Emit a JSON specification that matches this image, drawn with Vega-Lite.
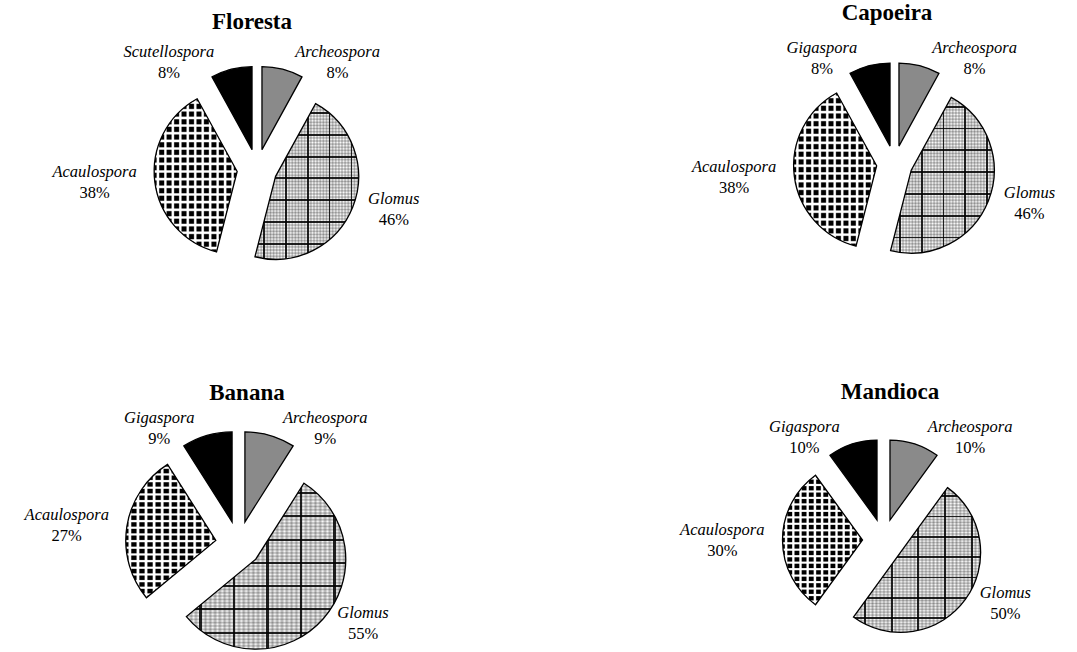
{
  "$schema": "https://vega.github.io/schema/vega-lite/v6.json",
  "background": "white",
  "padding": {"top": 2, "left": 0, "right": 0, "bottom": 0},
  "config": {
    "view": {"stroke": null},
    "font": "Liberation Serif",
    "title": {"font": "Liberation Serif", "fontSize": 23, "fontWeight": "bold", "color": "black", "anchor": "middle", "frame": "group"},
    "text": {"color": "black"}
  },
  "params": [
    {"name": "texGlomusV", "value": {"gradient": "linear", "x1": 0, "y1": 0, "x2": 1, "y2": 0, "stops": [
      {"offset": 0, "color": "#0004"}, {"offset": 0.015, "color": "#0000"}, {"offset": 0.03, "color": "#0004"}, {"offset": 0.045, "color": "#0000"}, {"offset": 0.06, "color": "#0004"}, {"offset": 0.075, "color": "#0000"},
      {"offset": 0.082, "color": "#0002"}, {"offset": 0.082, "color": "#000d"}, {"offset": 0.098, "color": "#000d"}, {"offset": 0.098, "color": "#0002"},
      {"offset": 0.105, "color": "#0000"}, {"offset": 0.12, "color": "#0004"}, {"offset": 0.135, "color": "#0000"}, {"offset": 0.15, "color": "#0004"}, {"offset": 0.165, "color": "#0000"}, {"offset": 0.18, "color": "#0004"}, {"offset": 0.195, "color": "#0000"}, {"offset": 0.21, "color": "#0004"}, {"offset": 0.225, "color": "#0000"}, {"offset": 0.24, "color": "#0004"}, {"offset": 0.255, "color": "#0000"}, {"offset": 0.27, "color": "#0004"}, {"offset": 0.285, "color": "#0000"},
      {"offset": 0.292, "color": "#0002"}, {"offset": 0.292, "color": "#000d"}, {"offset": 0.308, "color": "#000d"}, {"offset": 0.308, "color": "#0002"},
      {"offset": 0.315, "color": "#0000"}, {"offset": 0.33, "color": "#0004"}, {"offset": 0.345, "color": "#0000"}, {"offset": 0.36, "color": "#0004"}, {"offset": 0.375, "color": "#0000"}, {"offset": 0.39, "color": "#0004"}, {"offset": 0.405, "color": "#0000"}, {"offset": 0.42, "color": "#0004"}, {"offset": 0.435, "color": "#0000"}, {"offset": 0.45, "color": "#0004"}, {"offset": 0.465, "color": "#0000"}, {"offset": 0.48, "color": "#0004"}, {"offset": 0.495, "color": "#0000"},
      {"offset": 0.502, "color": "#0002"}, {"offset": 0.502, "color": "#000d"}, {"offset": 0.518, "color": "#000d"}, {"offset": 0.518, "color": "#0002"},
      {"offset": 0.525, "color": "#0000"}, {"offset": 0.54, "color": "#0004"}, {"offset": 0.555, "color": "#0000"}, {"offset": 0.57, "color": "#0004"}, {"offset": 0.585, "color": "#0000"}, {"offset": 0.6, "color": "#0004"}, {"offset": 0.615, "color": "#0000"}, {"offset": 0.63, "color": "#0004"}, {"offset": 0.645, "color": "#0000"}, {"offset": 0.66, "color": "#0004"}, {"offset": 0.675, "color": "#0000"}, {"offset": 0.69, "color": "#0004"}, {"offset": 0.705, "color": "#0000"},
      {"offset": 0.712, "color": "#0002"}, {"offset": 0.712, "color": "#000d"}, {"offset": 0.728, "color": "#000d"}, {"offset": 0.728, "color": "#0002"},
      {"offset": 0.735, "color": "#0000"}, {"offset": 0.75, "color": "#0004"}, {"offset": 0.765, "color": "#0000"}, {"offset": 0.78, "color": "#0004"}, {"offset": 0.795, "color": "#0000"}, {"offset": 0.81, "color": "#0004"}, {"offset": 0.825, "color": "#0000"}, {"offset": 0.84, "color": "#0004"}, {"offset": 0.855, "color": "#0000"}, {"offset": 0.87, "color": "#0004"}, {"offset": 0.885, "color": "#0000"}, {"offset": 0.9, "color": "#0004"}, {"offset": 0.915, "color": "#0000"},
      {"offset": 0.922, "color": "#0002"}, {"offset": 0.922, "color": "#000d"}, {"offset": 0.938, "color": "#000d"}, {"offset": 0.938, "color": "#0002"},
      {"offset": 0.945, "color": "#0000"}, {"offset": 0.96, "color": "#0004"}, {"offset": 0.975, "color": "#0000"}, {"offset": 0.99, "color": "#0004"}, {"offset": 1, "color": "#0002"}
    ]}},
    {"name": "texGlomusH", "value": {"gradient": "linear", "x1": 0, "y1": 0, "x2": 0, "y2": 1, "stops": [
      {"offset": 0, "color": "#0004"}, {"offset": 0.01, "color": "#0000"}, {"offset": 0.02, "color": "#0004"}, {"offset": 0.03, "color": "#0000"}, {"offset": 0.04, "color": "#0004"}, {"offset": 0.05, "color": "#0000"},
      {"offset": 0.054, "color": "#0002"}, {"offset": 0.054, "color": "#000d"}, {"offset": 0.066, "color": "#000d"}, {"offset": 0.066, "color": "#0002"},
      {"offset": 0.07, "color": "#0000"}, {"offset": 0.08, "color": "#0004"}, {"offset": 0.09, "color": "#0000"}, {"offset": 0.1, "color": "#0004"}, {"offset": 0.11, "color": "#0000"}, {"offset": 0.12, "color": "#0004"}, {"offset": 0.13, "color": "#0000"}, {"offset": 0.14, "color": "#0004"}, {"offset": 0.15, "color": "#0000"}, {"offset": 0.16, "color": "#0004"}, {"offset": 0.17, "color": "#0000"}, {"offset": 0.18, "color": "#0004"}, {"offset": 0.19, "color": "#0000"},
      {"offset": 0.194, "color": "#0002"}, {"offset": 0.194, "color": "#000d"}, {"offset": 0.206, "color": "#000d"}, {"offset": 0.206, "color": "#0002"},
      {"offset": 0.21, "color": "#0000"}, {"offset": 0.22, "color": "#0004"}, {"offset": 0.23, "color": "#0000"}, {"offset": 0.24, "color": "#0004"}, {"offset": 0.25, "color": "#0000"}, {"offset": 0.26, "color": "#0004"}, {"offset": 0.27, "color": "#0000"}, {"offset": 0.28, "color": "#0004"}, {"offset": 0.29, "color": "#0000"}, {"offset": 0.3, "color": "#0004"}, {"offset": 0.31, "color": "#0000"}, {"offset": 0.32, "color": "#0004"}, {"offset": 0.33, "color": "#0000"},
      {"offset": 0.334, "color": "#0002"}, {"offset": 0.334, "color": "#000d"}, {"offset": 0.346, "color": "#000d"}, {"offset": 0.346, "color": "#0002"},
      {"offset": 0.35, "color": "#0000"}, {"offset": 0.36, "color": "#0004"}, {"offset": 0.37, "color": "#0000"}, {"offset": 0.38, "color": "#0004"}, {"offset": 0.39, "color": "#0000"}, {"offset": 0.4, "color": "#0004"}, {"offset": 0.41, "color": "#0000"}, {"offset": 0.42, "color": "#0004"}, {"offset": 0.43, "color": "#0000"}, {"offset": 0.44, "color": "#0004"}, {"offset": 0.45, "color": "#0000"}, {"offset": 0.46, "color": "#0004"}, {"offset": 0.47, "color": "#0000"},
      {"offset": 0.474, "color": "#0002"}, {"offset": 0.474, "color": "#000d"}, {"offset": 0.486, "color": "#000d"}, {"offset": 0.486, "color": "#0002"},
      {"offset": 0.49, "color": "#0000"}, {"offset": 0.5, "color": "#0004"}, {"offset": 0.51, "color": "#0000"}, {"offset": 0.52, "color": "#0004"}, {"offset": 0.53, "color": "#0000"}, {"offset": 0.54, "color": "#0004"}, {"offset": 0.55, "color": "#0000"}, {"offset": 0.56, "color": "#0004"}, {"offset": 0.57, "color": "#0000"}, {"offset": 0.58, "color": "#0004"}, {"offset": 0.59, "color": "#0000"}, {"offset": 0.6, "color": "#0004"}, {"offset": 0.61, "color": "#0000"},
      {"offset": 0.614, "color": "#0002"}, {"offset": 0.614, "color": "#000d"}, {"offset": 0.626, "color": "#000d"}, {"offset": 0.626, "color": "#0002"},
      {"offset": 0.63, "color": "#0000"}, {"offset": 0.64, "color": "#0004"}, {"offset": 0.65, "color": "#0000"}, {"offset": 0.66, "color": "#0004"}, {"offset": 0.67, "color": "#0000"}, {"offset": 0.68, "color": "#0004"}, {"offset": 0.69, "color": "#0000"}, {"offset": 0.7, "color": "#0004"}, {"offset": 0.71, "color": "#0000"}, {"offset": 0.72, "color": "#0004"}, {"offset": 0.73, "color": "#0000"}, {"offset": 0.74, "color": "#0004"}, {"offset": 0.75, "color": "#0000"},
      {"offset": 0.754, "color": "#0002"}, {"offset": 0.754, "color": "#000d"}, {"offset": 0.766, "color": "#000d"}, {"offset": 0.766, "color": "#0002"},
      {"offset": 0.77, "color": "#0000"}, {"offset": 0.78, "color": "#0004"}, {"offset": 0.79, "color": "#0000"}, {"offset": 0.8, "color": "#0004"}, {"offset": 0.81, "color": "#0000"}, {"offset": 0.82, "color": "#0004"}, {"offset": 0.83, "color": "#0000"}, {"offset": 0.84, "color": "#0004"}, {"offset": 0.85, "color": "#0000"}, {"offset": 0.86, "color": "#0004"}, {"offset": 0.87, "color": "#0000"}, {"offset": 0.88, "color": "#0004"}, {"offset": 0.89, "color": "#0000"},
      {"offset": 0.894, "color": "#0002"}, {"offset": 0.894, "color": "#000d"}, {"offset": 0.906, "color": "#000d"}, {"offset": 0.906, "color": "#0002"},
      {"offset": 0.91, "color": "#0000"}, {"offset": 0.92, "color": "#0004"}, {"offset": 0.93, "color": "#0000"}, {"offset": 0.94, "color": "#0004"}, {"offset": 0.95, "color": "#0000"}, {"offset": 0.96, "color": "#0004"}, {"offset": 0.97, "color": "#0000"}, {"offset": 0.98, "color": "#0004"}, {"offset": 0.99, "color": "#0000"}, {"offset": 1, "color": "#0004"}
    ]}},
    {"name": "texAcauV", "value": {"gradient": "linear", "x1": 0, "y1": 0, "x2": 1, "y2": 0, "stops": [
      {"offset": 0.0225, "color": "#fff0"}, {"offset": 0.0378, "color": "#ffff"}, {"offset": 0.0522, "color": "#ffff"}, {"offset": 0.0675, "color": "#fff0"},
      {"offset": 0.1125, "color": "#fff0"}, {"offset": 0.1278, "color": "#ffff"}, {"offset": 0.1422, "color": "#ffff"}, {"offset": 0.1575, "color": "#fff0"},
      {"offset": 0.2025, "color": "#fff0"}, {"offset": 0.2178, "color": "#ffff"}, {"offset": 0.2322, "color": "#ffff"}, {"offset": 0.2475, "color": "#fff0"},
      {"offset": 0.2925, "color": "#fff0"}, {"offset": 0.3078, "color": "#ffff"}, {"offset": 0.3222, "color": "#ffff"}, {"offset": 0.3375, "color": "#fff0"},
      {"offset": 0.3825, "color": "#fff0"}, {"offset": 0.3978, "color": "#ffff"}, {"offset": 0.4122, "color": "#ffff"}, {"offset": 0.4275, "color": "#fff0"},
      {"offset": 0.4725, "color": "#fff0"}, {"offset": 0.4878, "color": "#ffff"}, {"offset": 0.5022, "color": "#ffff"}, {"offset": 0.5175, "color": "#fff0"},
      {"offset": 0.5625, "color": "#fff0"}, {"offset": 0.5778, "color": "#ffff"}, {"offset": 0.5922, "color": "#ffff"}, {"offset": 0.6075, "color": "#fff0"},
      {"offset": 0.6525, "color": "#fff0"}, {"offset": 0.6678, "color": "#ffff"}, {"offset": 0.6822, "color": "#ffff"}, {"offset": 0.6975, "color": "#fff0"},
      {"offset": 0.7425, "color": "#fff0"}, {"offset": 0.7578, "color": "#ffff"}, {"offset": 0.7722, "color": "#ffff"}, {"offset": 0.7875, "color": "#fff0"},
      {"offset": 0.8325, "color": "#fff0"}, {"offset": 0.8478, "color": "#ffff"}, {"offset": 0.8622, "color": "#ffff"}, {"offset": 0.8775, "color": "#fff0"},
      {"offset": 0.9225, "color": "#fff0"}, {"offset": 0.9378, "color": "#ffff"}, {"offset": 0.9522, "color": "#ffff"}, {"offset": 0.9675, "color": "#fff0"}
    ]}},
    {"name": "texAcauH", "value": {"gradient": "linear", "x1": 0, "y1": 0, "x2": 0, "y2": 1, "stops": [
      {"offset": 0.0125, "color": "#fff0"}, {"offset": 0.021, "color": "#ffff"}, {"offset": 0.029, "color": "#ffff"}, {"offset": 0.0375, "color": "#fff0"},
      {"offset": 0.0625, "color": "#fff0"}, {"offset": 0.071, "color": "#ffff"}, {"offset": 0.079, "color": "#ffff"}, {"offset": 0.0875, "color": "#fff0"},
      {"offset": 0.1125, "color": "#fff0"}, {"offset": 0.121, "color": "#ffff"}, {"offset": 0.129, "color": "#ffff"}, {"offset": 0.1375, "color": "#fff0"},
      {"offset": 0.1625, "color": "#fff0"}, {"offset": 0.171, "color": "#ffff"}, {"offset": 0.179, "color": "#ffff"}, {"offset": 0.1875, "color": "#fff0"},
      {"offset": 0.2125, "color": "#fff0"}, {"offset": 0.221, "color": "#ffff"}, {"offset": 0.229, "color": "#ffff"}, {"offset": 0.2375, "color": "#fff0"},
      {"offset": 0.2625, "color": "#fff0"}, {"offset": 0.271, "color": "#ffff"}, {"offset": 0.279, "color": "#ffff"}, {"offset": 0.2875, "color": "#fff0"},
      {"offset": 0.3125, "color": "#fff0"}, {"offset": 0.321, "color": "#ffff"}, {"offset": 0.329, "color": "#ffff"}, {"offset": 0.3375, "color": "#fff0"},
      {"offset": 0.3625, "color": "#fff0"}, {"offset": 0.371, "color": "#ffff"}, {"offset": 0.379, "color": "#ffff"}, {"offset": 0.3875, "color": "#fff0"},
      {"offset": 0.4125, "color": "#fff0"}, {"offset": 0.421, "color": "#ffff"}, {"offset": 0.429, "color": "#ffff"}, {"offset": 0.4375, "color": "#fff0"},
      {"offset": 0.4625, "color": "#fff0"}, {"offset": 0.471, "color": "#ffff"}, {"offset": 0.479, "color": "#ffff"}, {"offset": 0.4875, "color": "#fff0"},
      {"offset": 0.5125, "color": "#fff0"}, {"offset": 0.521, "color": "#ffff"}, {"offset": 0.529, "color": "#ffff"}, {"offset": 0.5375, "color": "#fff0"},
      {"offset": 0.5625, "color": "#fff0"}, {"offset": 0.571, "color": "#ffff"}, {"offset": 0.579, "color": "#ffff"}, {"offset": 0.5875, "color": "#fff0"},
      {"offset": 0.6125, "color": "#fff0"}, {"offset": 0.621, "color": "#ffff"}, {"offset": 0.629, "color": "#ffff"}, {"offset": 0.6375, "color": "#fff0"},
      {"offset": 0.6625, "color": "#fff0"}, {"offset": 0.671, "color": "#ffff"}, {"offset": 0.679, "color": "#ffff"}, {"offset": 0.6875, "color": "#fff0"},
      {"offset": 0.7125, "color": "#fff0"}, {"offset": 0.721, "color": "#ffff"}, {"offset": 0.729, "color": "#ffff"}, {"offset": 0.7375, "color": "#fff0"},
      {"offset": 0.7625, "color": "#fff0"}, {"offset": 0.771, "color": "#ffff"}, {"offset": 0.779, "color": "#ffff"}, {"offset": 0.7875, "color": "#fff0"},
      {"offset": 0.8125, "color": "#fff0"}, {"offset": 0.821, "color": "#ffff"}, {"offset": 0.829, "color": "#ffff"}, {"offset": 0.8375, "color": "#fff0"},
      {"offset": 0.8625, "color": "#fff0"}, {"offset": 0.871, "color": "#ffff"}, {"offset": 0.879, "color": "#ffff"}, {"offset": 0.8875, "color": "#fff0"},
      {"offset": 0.9125, "color": "#fff0"}, {"offset": 0.921, "color": "#ffff"}, {"offset": 0.929, "color": "#ffff"}, {"offset": 0.9375, "color": "#fff0"},
      {"offset": 0.9625, "color": "#fff0"}, {"offset": 0.971, "color": "#ffff"}, {"offset": 0.979, "color": "#ffff"}, {"offset": 0.9875, "color": "#fff0"}
    ]}}
  ],
  "datasets": {
    "fungos": [
      {"area": "Floresta", "genero": "Archeospora", "frac": 0.08, "ordem": 1},
      {"area": "Floresta", "genero": "Glomus", "frac": 0.46, "ordem": 2},
      {"area": "Floresta", "genero": "Acaulospora", "frac": 0.38, "ordem": 3},
      {"area": "Floresta", "genero": "Scutellospora", "frac": 0.08, "ordem": 4},
      {"area": "Capoeira", "genero": "Archeospora", "frac": 0.08, "ordem": 1},
      {"area": "Capoeira", "genero": "Glomus", "frac": 0.46, "ordem": 2},
      {"area": "Capoeira", "genero": "Acaulospora", "frac": 0.38, "ordem": 3},
      {"area": "Capoeira", "genero": "Gigaspora", "frac": 0.08, "ordem": 4},
      {"area": "Banana", "genero": "Archeospora", "frac": 0.09, "ordem": 1},
      {"area": "Banana", "genero": "Glomus", "frac": 0.55, "ordem": 2},
      {"area": "Banana", "genero": "Acaulospora", "frac": 0.27, "ordem": 3},
      {"area": "Banana", "genero": "Gigaspora", "frac": 0.09, "ordem": 4},
      {"area": "Mandioca", "genero": "Archeospora", "frac": 0.10, "ordem": 1},
      {"area": "Mandioca", "genero": "Glomus", "frac": 0.50, "ordem": 2},
      {"area": "Mandioca", "genero": "Acaulospora", "frac": 0.30, "ordem": 3},
      {"area": "Mandioca", "genero": "Gigaspora", "frac": 0.10, "ordem": 4}
    ]
  },
  "columns": 2,
  "align": "none",
  "bounds": "flush",
  "spacing": {"row": 145, "column": 215},
  "concat": [
    {
      "title": {"text": "Floresta", "offset": 7.5, "dx": -5},
      "width": 514, "height": 256,
      "data": {"name": "fungos"},
      "transform": [
        {"filter": "datum.area === 'Floresta'"},
        {"stack": "frac", "groupby": ["area"], "sort": [{"field": "ordem", "order": "ascending"}], "as": ["a0", "a1"]}
      ],
      "layer": [
        {"mark": {"type": "arc", "radius": 83, "xOffset": {"expr": "20*sin(PI*(datum.a0+datum.a1))"}, "yOffset": {"expr": "-20*cos(PI*(datum.a0+datum.a1))"}},
         "encoding": {"theta": {"field": "a0", "type": "quantitative", "scale": {"domain": [0, 1]}}, "theta2": {"field": "a1"},
           "fill": {"condition": [{"test": "datum.genero === 'Archeospora'", "value": "#8a8a8a"}, {"test": "datum.genero === 'Glomus'", "value": "white"}], "value": "black"}}},
        {"transform": [{"filter": "datum.genero === 'Glomus' || datum.genero === 'Acaulospora'"}],
         "mark": {"type": "arc", "radius": 83, "xOffset": {"expr": "20*sin(PI*(datum.a0+datum.a1))"}, "yOffset": {"expr": "-20*cos(PI*(datum.a0+datum.a1))"}, "fill": {"expr": "datum.genero === 'Glomus' ? texGlomusH : texAcauH"}},
         "encoding": {"theta": {"field": "a0", "type": "quantitative", "scale": {"domain": [0, 1]}}, "theta2": {"field": "a1"}}},
        {"transform": [{"filter": "datum.genero === 'Glomus' || datum.genero === 'Acaulospora'"}],
         "mark": {"type": "arc", "radius": 83, "xOffset": {"expr": "20*sin(PI*(datum.a0+datum.a1))"}, "yOffset": {"expr": "-20*cos(PI*(datum.a0+datum.a1))"}, "fill": {"expr": "datum.genero === 'Glomus' ? texGlomusV : texAcauV"}},
         "encoding": {"theta": {"field": "a0", "type": "quantitative", "scale": {"domain": [0, 1]}}, "theta2": {"field": "a1"}}},
        {"mark": {"type": "arc", "radius": 83, "filled": false, "stroke": "black", "strokeWidth": 1.3, "xOffset": {"expr": "20*sin(PI*(datum.a0+datum.a1))"}, "yOffset": {"expr": "-20*cos(PI*(datum.a0+datum.a1))"}},
         "encoding": {"theta": {"field": "a0", "type": "quantitative", "scale": {"domain": [0, 1]}}, "theta2": {"field": "a1"}}},
        {"mark": {"type": "text", "font": "Liberation Serif", "fontStyle": "italic", "fontSize": 16.5,
           "xOffset": {"expr": "110*sin(PI*(datum.a0+datum.a1))+(sin(PI*(datum.a0+datum.a1))>=0?1:-1)*(12+3.75*length(datum.genero))"},
           "yOffset": {"expr": "-110*cos(PI*(datum.a0+datum.a1))-10.5"}},
         "encoding": {"text": {"field": "genero"}}},
        {"mark": {"type": "text", "font": "Liberation Serif", "fontSize": 16.5,
           "xOffset": {"expr": "110*sin(PI*(datum.a0+datum.a1))+(sin(PI*(datum.a0+datum.a1))>=0?1:-1)*(12+3.75*length(datum.genero))"},
           "yOffset": {"expr": "-110*cos(PI*(datum.a0+datum.a1))+10.5"}},
         "encoding": {"text": {"field": "frac", "type": "quantitative", "format": ".0%"}}}
      ]
    },
    {
      "title": {"text": "Capoeira", "offset": 15, "dx": -7.5},
      "width": 331, "height": 245,
      "data": {"name": "fungos"},
      "transform": [
        {"filter": "datum.area === 'Capoeira'"},
        {"stack": "frac", "groupby": ["area"], "sort": [{"field": "ordem", "order": "ascending"}], "as": ["a0", "a1"]}
      ],
      "layer": [
        {"mark": {"type": "arc", "radius": 83, "xOffset": {"expr": "18*sin(PI*(datum.a0+datum.a1))"}, "yOffset": {"expr": "-18*cos(PI*(datum.a0+datum.a1))"}},
         "encoding": {"theta": {"field": "a0", "type": "quantitative", "scale": {"domain": [0, 1]}}, "theta2": {"field": "a1"},
           "fill": {"condition": [{"test": "datum.genero === 'Archeospora'", "value": "#8a8a8a"}, {"test": "datum.genero === 'Glomus'", "value": "white"}], "value": "black"}}},
        {"transform": [{"filter": "datum.genero === 'Glomus' || datum.genero === 'Acaulospora'"}],
         "mark": {"type": "arc", "radius": 83, "xOffset": {"expr": "18*sin(PI*(datum.a0+datum.a1))"}, "yOffset": {"expr": "-18*cos(PI*(datum.a0+datum.a1))"}, "fill": {"expr": "datum.genero === 'Glomus' ? texGlomusH : texAcauH"}},
         "encoding": {"theta": {"field": "a0", "type": "quantitative", "scale": {"domain": [0, 1]}}, "theta2": {"field": "a1"}}},
        {"transform": [{"filter": "datum.genero === 'Glomus' || datum.genero === 'Acaulospora'"}],
         "mark": {"type": "arc", "radius": 83, "xOffset": {"expr": "18*sin(PI*(datum.a0+datum.a1))"}, "yOffset": {"expr": "-18*cos(PI*(datum.a0+datum.a1))"}, "fill": {"expr": "datum.genero === 'Glomus' ? texGlomusV : texAcauV"}},
         "encoding": {"theta": {"field": "a0", "type": "quantitative", "scale": {"domain": [0, 1]}}, "theta2": {"field": "a1"}}},
        {"mark": {"type": "arc", "radius": 83, "filled": false, "stroke": "black", "strokeWidth": 1.3, "xOffset": {"expr": "18*sin(PI*(datum.a0+datum.a1))"}, "yOffset": {"expr": "-18*cos(PI*(datum.a0+datum.a1))"}},
         "encoding": {"theta": {"field": "a0", "type": "quantitative", "scale": {"domain": [0, 1]}}, "theta2": {"field": "a1"}}},
        {"mark": {"type": "text", "font": "Liberation Serif", "fontStyle": "italic", "fontSize": 16.5,
           "xOffset": {"expr": "108*sin(PI*(datum.a0+datum.a1))+(sin(PI*(datum.a0+datum.a1))>=0?1:-1)*(12+3.75*length(datum.genero))"},
           "yOffset": {"expr": "-108*cos(PI*(datum.a0+datum.a1))-10.5"}},
         "encoding": {"text": {"field": "genero"}}},
        {"mark": {"type": "text", "font": "Liberation Serif", "fontSize": 16.5,
           "xOffset": {"expr": "108*sin(PI*(datum.a0+datum.a1))+(sin(PI*(datum.a0+datum.a1))>=0?1:-1)*(12+3.75*length(datum.genero))"},
           "yOffset": {"expr": "-108*cos(PI*(datum.a0+datum.a1))+10.5"}},
         "encoding": {"text": {"field": "frac", "type": "quantitative", "format": ".0%"}}}
      ]
    },
    {
      "title": {"text": "Banana", "offset": 5.5, "dx": 8.5},
      "width": 477, "height": 204,
      "data": {"name": "fungos"},
      "transform": [
        {"filter": "datum.area === 'Banana'"},
        {"stack": "frac", "groupby": ["area"], "sort": [{"field": "ordem", "order": "ascending"}], "as": ["a0", "a1"]}
      ],
      "layer": [
        {"mark": {"type": "arc", "radius": 90, "xOffset": {"expr": "23*sin(PI*(datum.a0+datum.a1))"}, "yOffset": {"expr": "-23*cos(PI*(datum.a0+datum.a1))"}},
         "encoding": {"theta": {"field": "a0", "type": "quantitative", "scale": {"domain": [0, 1]}}, "theta2": {"field": "a1"},
           "fill": {"condition": [{"test": "datum.genero === 'Archeospora'", "value": "#8a8a8a"}, {"test": "datum.genero === 'Glomus'", "value": "white"}], "value": "black"}}},
        {"transform": [{"filter": "datum.genero === 'Glomus' || datum.genero === 'Acaulospora'"}],
         "mark": {"type": "arc", "radius": 90, "xOffset": {"expr": "23*sin(PI*(datum.a0+datum.a1))"}, "yOffset": {"expr": "-23*cos(PI*(datum.a0+datum.a1))"}, "fill": {"expr": "datum.genero === 'Glomus' ? texGlomusH : texAcauH"}},
         "encoding": {"theta": {"field": "a0", "type": "quantitative", "scale": {"domain": [0, 1]}}, "theta2": {"field": "a1"}}},
        {"transform": [{"filter": "datum.genero === 'Glomus' || datum.genero === 'Acaulospora'"}],
         "mark": {"type": "arc", "radius": 90, "xOffset": {"expr": "23*sin(PI*(datum.a0+datum.a1))"}, "yOffset": {"expr": "-23*cos(PI*(datum.a0+datum.a1))"}, "fill": {"expr": "datum.genero === 'Glomus' ? texGlomusV : texAcauV"}},
         "encoding": {"theta": {"field": "a0", "type": "quantitative", "scale": {"domain": [0, 1]}}, "theta2": {"field": "a1"}}},
        {"mark": {"type": "arc", "radius": 90, "filled": false, "stroke": "black", "strokeWidth": 1.3, "xOffset": {"expr": "23*sin(PI*(datum.a0+datum.a1))"}, "yOffset": {"expr": "-23*cos(PI*(datum.a0+datum.a1))"}},
         "encoding": {"theta": {"field": "a0", "type": "quantitative", "scale": {"domain": [0, 1]}}, "theta2": {"field": "a1"}}},
        {"mark": {"type": "text", "font": "Liberation Serif", "fontStyle": "italic", "fontSize": 16.5,
           "xOffset": {"expr": "120*sin(PI*(datum.a0+datum.a1))+(sin(PI*(datum.a0+datum.a1))>=0?1:-1)*(12+3.75*length(datum.genero))"},
           "yOffset": {"expr": "-120*cos(PI*(datum.a0+datum.a1))-10.5"}},
         "encoding": {"text": {"field": "genero"}}},
        {"mark": {"type": "text", "font": "Liberation Serif", "fontSize": 16.5,
           "xOffset": {"expr": "120*sin(PI*(datum.a0+datum.a1))+(sin(PI*(datum.a0+datum.a1))>=0?1:-1)*(12+3.75*length(datum.genero))"},
           "yOffset": {"expr": "-120*cos(PI*(datum.a0+datum.a1))+10.5"}},
         "encoding": {"text": {"field": "frac", "type": "quantitative", "format": ".0%"}}}
      ]
    },
    {
      "title": {"text": "Mandioca", "offset": 15, "dx": 6.5},
      "width": 309, "height": 196,
      "data": {"name": "fungos"},
      "transform": [
        {"filter": "datum.area === 'Mandioca'"},
        {"stack": "frac", "groupby": ["area"], "sort": [{"field": "ordem", "order": "ascending"}], "as": ["a0", "a1"]}
      ],
      "layer": [
        {"mark": {"type": "arc", "radius": 80, "xOffset": {"expr": "21*sin(PI*(datum.a0+datum.a1))"}, "yOffset": {"expr": "-21*cos(PI*(datum.a0+datum.a1))"}},
         "encoding": {"theta": {"field": "a0", "type": "quantitative", "scale": {"domain": [0, 1]}}, "theta2": {"field": "a1"},
           "fill": {"condition": [{"test": "datum.genero === 'Archeospora'", "value": "#8a8a8a"}, {"test": "datum.genero === 'Glomus'", "value": "white"}], "value": "black"}}},
        {"transform": [{"filter": "datum.genero === 'Glomus' || datum.genero === 'Acaulospora'"}],
         "mark": {"type": "arc", "radius": 80, "xOffset": {"expr": "21*sin(PI*(datum.a0+datum.a1))"}, "yOffset": {"expr": "-21*cos(PI*(datum.a0+datum.a1))"}, "fill": {"expr": "datum.genero === 'Glomus' ? texGlomusH : texAcauH"}},
         "encoding": {"theta": {"field": "a0", "type": "quantitative", "scale": {"domain": [0, 1]}}, "theta2": {"field": "a1"}}},
        {"transform": [{"filter": "datum.genero === 'Glomus' || datum.genero === 'Acaulospora'"}],
         "mark": {"type": "arc", "radius": 80, "xOffset": {"expr": "21*sin(PI*(datum.a0+datum.a1))"}, "yOffset": {"expr": "-21*cos(PI*(datum.a0+datum.a1))"}, "fill": {"expr": "datum.genero === 'Glomus' ? texGlomusV : texAcauV"}},
         "encoding": {"theta": {"field": "a0", "type": "quantitative", "scale": {"domain": [0, 1]}}, "theta2": {"field": "a1"}}},
        {"mark": {"type": "arc", "radius": 80, "filled": false, "stroke": "black", "strokeWidth": 1.3, "xOffset": {"expr": "21*sin(PI*(datum.a0+datum.a1))"}, "yOffset": {"expr": "-21*cos(PI*(datum.a0+datum.a1))"}},
         "encoding": {"theta": {"field": "a0", "type": "quantitative", "scale": {"domain": [0, 1]}}, "theta2": {"field": "a1"}}},
        {"mark": {"type": "text", "font": "Liberation Serif", "fontStyle": "italic", "fontSize": 16.5,
           "xOffset": {"expr": "108*sin(PI*(datum.a0+datum.a1))+(sin(PI*(datum.a0+datum.a1))>=0?1:-1)*(12+3.75*length(datum.genero))"},
           "yOffset": {"expr": "-108*cos(PI*(datum.a0+datum.a1))-10.5"}},
         "encoding": {"text": {"field": "genero"}}},
        {"mark": {"type": "text", "font": "Liberation Serif", "fontSize": 16.5,
           "xOffset": {"expr": "108*sin(PI*(datum.a0+datum.a1))+(sin(PI*(datum.a0+datum.a1))>=0?1:-1)*(12+3.75*length(datum.genero))"},
           "yOffset": {"expr": "-108*cos(PI*(datum.a0+datum.a1))+10.5"}},
         "encoding": {"text": {"field": "frac", "type": "quantitative", "format": ".0%"}}}
      ]
    }
  ]
}
